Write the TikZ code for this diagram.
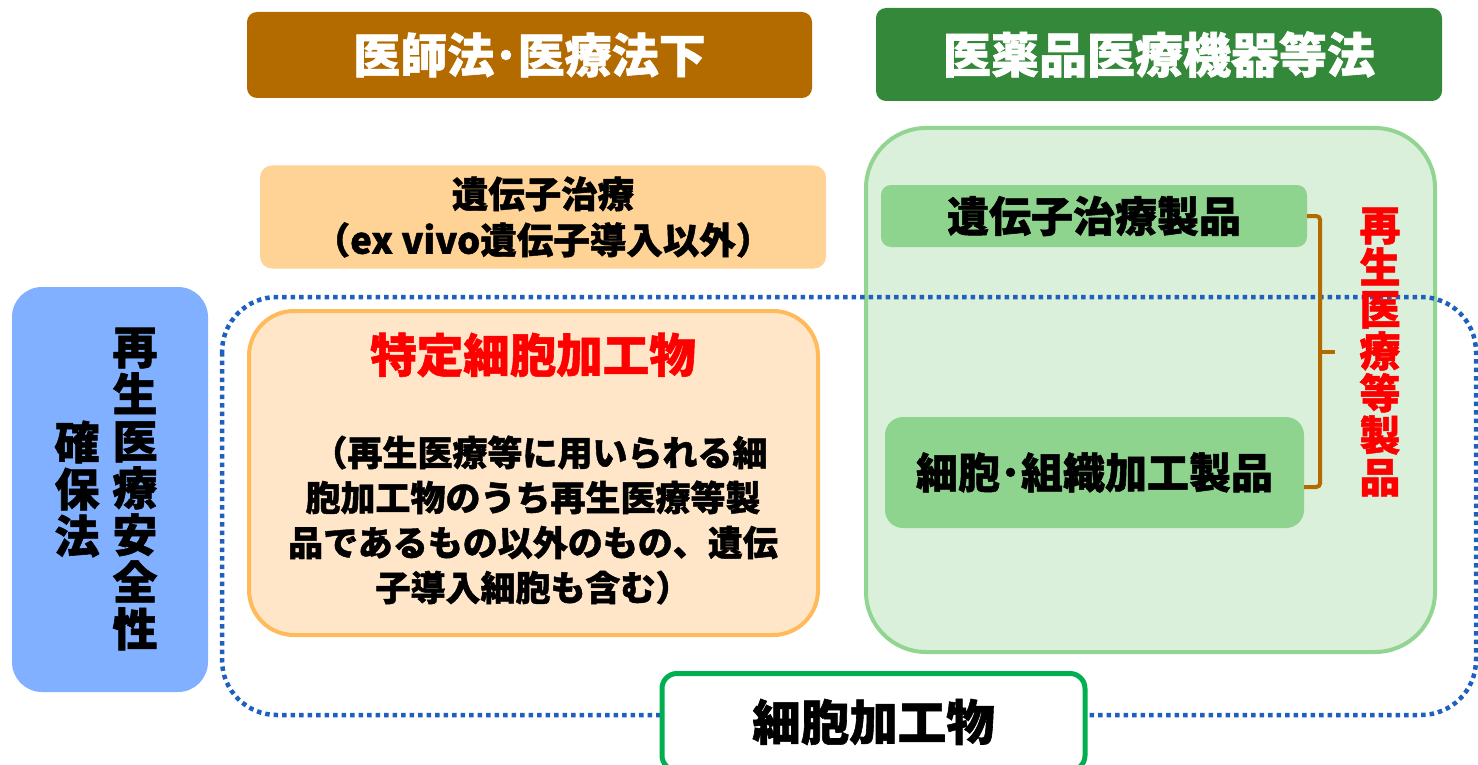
\documentclass[tikz,border=0pt]{standalone}
\usepackage{fontspec}
\usetikzlibrary{calc}
\setmainfont{Noto Sans CJK JP}[BoldFeatures={FakeBold=1.2}]
\definecolor{cBrown}{HTML}{B36B00}
\definecolor{cDkGreen}{HTML}{33883A}
\definecolor{cPeach}{HTML}{FFD395}
\definecolor{cOrFill}{HTML}{FFE6C9}
\definecolor{cOrLine}{HTML}{FFBA5A}
\definecolor{cLtGreen}{HTML}{DAF0DA}
\definecolor{cLtGreenLine}{HTML}{92D592}
\definecolor{cMidGreen}{HTML}{8ED48E}
\definecolor{cBlue}{HTML}{80B0FF}
\definecolor{cDot}{HTML}{1F5FBF}
\definecolor{cBotLine}{HTML}{00B050}
\definecolor{cRed}{HTML}{FF0000}
\begin{document}
\begin{tikzpicture}[x=1pt,y=-1pt,
  base/.style={rectangle, inner sep=0pt, align=center},
  titlebox/.style={base, rounded corners=10pt, text=white, font=\bfseries\fontsize{47}{50}\selectfont},
  greenbox/.style={base, fill=cMidGreen, font=\bfseries\fontsize{42}{46}\selectfont},
  vtext/.style={inner sep=0pt, align=center, font=\bfseries\fontsize{45}{47}\selectfont},
  bracestyle/.style={draw=cBrown, line width=4pt, rounded corners=4pt},
  dotline/.style={draw=cDot, line width=4.5pt, dash pattern=on 4.5pt off 4pt, rounded corners=55pt}
]
\useasboundingbox (0,0) rectangle (1478,765);

% title boxes
\node[titlebox, fill=cBrown, minimum width=565pt, minimum height=86pt] (t1) at (529.5,55) {医師法･医療法下};
\node[titlebox, fill=cDkGreen, minimum width=566pt, minimum height=93pt, font=\bfseries\fontsize{48}{50}\selectfont] (t2) at (1159,54.5) {医薬品医療機器等法};

% gene therapy (peach)
\node[base, fill=cPeach, rounded corners=12pt, minimum width=566pt, minimum height=103pt,
      font=\bfseries\fontsize{36.5}{46}\selectfont] (gt) at (543,217) {遺伝子治療\\（ex vivo遺伝子導入以外）};

% big light green area
\node[base, fill=cLtGreen, draw=cLtGreenLine, line width=4pt, rounded corners=60pt,
      minimum width=569pt, minimum height=524pt] (big) at (1150.5,390) {};

% dotted region
\coordinate (dA) at (222,297);
\coordinate (dB) at (1476,715);
\draw[dotline] (dA) rectangle (dB);

% inner green boxes
\node[greenbox, rounded corners=10pt, minimum width=426pt, minimum height=62pt] (gp) at (1094,216) {遺伝子治療製品};
\node[greenbox, rounded corners=18pt, minimum width=419pt, minimum height=111pt] (cp) at (1094.5,472.5) {細胞･組織加工製品};

% brace
\coordinate (bBot) at ($(cp.east)+(0,14.5)$);
\draw[bracestyle] (gp.east) -- ++(13,0) |- (bBot);
\coordinate (bMid) at (1320,352);
\draw[draw=cBrown, line width=4pt] (bMid) -- ++(15,0);
\node[vtext, text=cRed, font=\bfseries\fontsize{41}{42}\selectfont] (rv) at (1380,352) {再\\生\\医\\療\\等\\製\\品};

% blue left box
\node[base, fill=cBlue, rounded corners=30pt, minimum width=196pt, minimum height=405pt] (blue) at (110,489.5) {};
\node[vtext] (v1) at (135,489) {再\\生\\医\\療\\安\\全\\性};
\node[vtext] (v2) at (77,489) {確\\保\\法};

% orange specified cell product box
\node[base, fill=cOrFill, draw=cOrLine, line width=4pt, rounded corners=45pt,
      minimum width=569pt, minimum height=324pt] (sp) at (533.5,473) {};
\node[inner sep=0pt, text=cRed, font=\bfseries\fontsize{46.5}{48}\selectfont] (spt) at (533,355) {特定細胞加工物};
\node[inner sep=0pt, align=center, font=\bfseries\fontsize{35}{45}\selectfont] (spb) at (533,520)
  {\hspace{0.4em}（再生医療等に用いられる細\\胞加工物のうち再生医療等製\\品であるもの以外のもの、遺伝\\子導入細胞も含む）};

% bottom box
\node[base, fill=white, draw=cBotLine, line width=5pt, rounded corners=15pt,
      minimum width=423pt, minimum height=97pt, font=\bfseries\fontsize{48.5}{50}\selectfont] (bot) at (873.5,722) {細胞加工物};
\end{tikzpicture}
\end{document}
